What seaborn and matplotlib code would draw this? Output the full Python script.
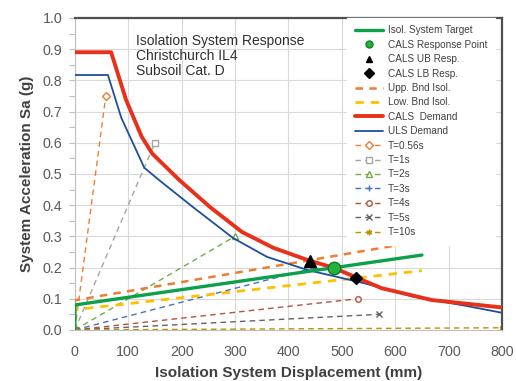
import pandas as pd
import seaborn as sns
import matplotlib.pyplot as plt
from matplotlib.ticker import MultipleLocator

# demand curves
cals_disp = [0, 68, 96, 125, 145, 196, 253, 313, 372, 436, 485, 574, 668, 800]
cals_sa = [0.89, 0.89, 0.737, 0.62, 0.565, 0.48, 0.394, 0.314, 0.263, 0.224, 0.199, 0.134, 0.096, 0.072]
uls_disp = [0, 62, 87, 130, 158, 221, 296, 360, 436, 541, 636, 730, 800]
uls_sa = [0.817, 0.817, 0.68, 0.52, 0.48, 0.394, 0.295, 0.234, 0.192, 0.15, 0.106, 0.078, 0.055]

# isolation system lines
isol_disp = [0, 0, 650]
isol_sa = [0, 0.08, 0.24]
ub_disp = [0, 0, 650]
ub_sa = [0, 0.095, 0.285]
lb_disp = [0, 0, 650]
lb_sa = [0, 0.065, 0.19]

# response points
resp_pt = (485, 0.20)
ub_pt = (440, 0.22)
lb_pt = (526, 0.167)

# period lines from origin
t_labels = ['T=0.56s', 'T=1s', 'T=2s', 'T=3s', 'T=4s', 'T=5s', 'T=10s']
t_end_disp = [58, 150, 300, 450, 530, 570, 800]
t_end_sa = [0.75, 0.60, 0.30, 0.20, 0.10, 0.05, 0.007]
t_colors = ['#ED7D31', '#A5A5A5', '#70AD47', '#4472C4', '#B5533C', '#636363', '#BF9000']
t_markers = ['D', 's', '^', '+', 'o', 'x', (6, 2, 0)]

sns.set_theme(style="white")
plt.rcParams['font.family'] = ['Liberation Sans', 'DejaVu Sans']

fig = plt.figure(figsize=(5.16, 3.81), dpi=100)
ax = fig.add_axes([0.145, 0.134, 0.828, 0.819])

for lab, xe, ye, c, m in zip(t_labels, t_end_disp, t_end_sa, t_colors, t_markers):
    filled = m in ['+', 'x', (6, 2, 0)]
    sns.lineplot(x=[0, xe], y=[0, ye], ax=ax, estimator=None, sort=False,
                 color=c, lw=1.0, dashes=False, linestyle=(0, (4, 3)),
                 marker=m, markersize=4, markerfacecolor=c if filled else 'white',
                 markeredgecolor=c, markeredgewidth=1.0, label=lab, zorder=2)

sns.lineplot(x=ub_disp, y=ub_sa, ax=ax, estimator=None, sort=False, color='#ED7D31',
             lw=1.8, linestyle=(0, (3, 2.5)), label='Upp. Bnd Isol.', zorder=3)
sns.lineplot(x=lb_disp, y=lb_sa, ax=ax, estimator=None, sort=False, color='#FFC000',
             lw=2.0, linestyle=(0, (3, 2.5)), label='Low. Bnd Isol.', zorder=3)
sns.lineplot(x=uls_disp, y=uls_sa, ax=ax, estimator=None, sort=False, color='#1F4E99',
             lw=1.3, label='ULS Demand', zorder=4)
sns.lineplot(x=cals_disp, y=cals_sa, ax=ax, estimator=None, sort=False, color='#E8311A',
             lw=2.8, label='CALS  Demand', zorder=5)
sns.lineplot(x=isol_disp, y=isol_sa, ax=ax, estimator=None, sort=False, color='#0DA04A',
             lw=2.4, label='Isol. System Target', zorder=6)

ax.plot([resp_pt[0]], [resp_pt[1]], 'o', color='#22B33A', mec='#137A2A', ms=9, mew=1,
        label='CALS Response Point', zorder=8)
ax.plot([ub_pt[0]], [ub_pt[1]], '^', color='black', ms=8.5, label='CALS UB Resp.', zorder=8)
ax.plot([lb_pt[0]], [lb_pt[1]], 'D', color='black', ms=6.5, label='CALS LB Resp.', zorder=8)

ax.set_xlim(0, 800)
ax.set_ylim(0, 1.0)
ax.xaxis.set_major_locator(MultipleLocator(100))
ax.yaxis.set_major_locator(MultipleLocator(0.1))
ax.yaxis.set_minor_locator(MultipleLocator(0.05))
ax.yaxis.set_major_formatter(plt.FormatStrFormatter('%.1f'))
ax.grid(True, which='major', color='#D9D9D9', lw=0.8)
ax.tick_params(axis='x', which='major', labelsize=10.3, colors='#595959', length=0, pad=11)
ax.tick_params(axis='y', which='both', left=True, labelsize=10.3, labelcolor='#595959',
               color='#BFBFBF', length=4, width=0.8, pad=5)
for s in ['left', 'bottom']:
    ax.spines[s].set_color('#BFBFBF')
    ax.spines[s].set_linewidth(0.8)
for s in ['top', 'right']:
    ax.spines[s].set_color('#505050')
    ax.spines[s].set_linewidth(1.6)

ax.set_xlabel('Isolation System Displacement (mm)', fontsize=11, fontweight='bold',
              color='#404040', labelpad=5)
ax.set_ylabel('System Acceleration Sa (g)', fontsize=11, fontweight='bold',
              color='#404040', labelpad=6)

ax.text(0.143, 0.948, 'Isolation System Response\nChristchurch IL4\nSubsoil Cat. D',
        transform=ax.transAxes, va='top', ha='left', fontsize=10, color='#303030',
        linespacing=1.1, zorder=9)

handles, labels = ax.get_legend_handles_labels()
order = ['Isol. System Target', 'CALS Response Point', 'CALS UB Resp.', 'CALS LB Resp.',
         'Upp. Bnd Isol.', 'Low. Bnd Isol.', 'CALS  Demand', 'ULS Demand'] + t_labels
hmap = dict(zip(labels, handles))
leg = ax.legend([hmap[k] for k in order], order, loc='upper left', bbox_to_anchor=(0.638, 1.0),
                fontsize=7.2, frameon=True, fancybox=False, borderaxespad=0,
                handlelength=2.8, labelspacing=0.44, borderpad=0.75, handletextpad=0.5,
                labelcolor='#404040')
for h, k in zip(leg.legend_handles, order):
    if k in ['CALS Response Point', 'CALS UB Resp.', 'CALS LB Resp.']:
        h.set_markersize(5)
leg.get_frame().set_edgecolor('white')
leg.get_frame().set_alpha(1)
leg.set_zorder(10)

plt.savefig('out.png', dpi=100)
plt.close()
